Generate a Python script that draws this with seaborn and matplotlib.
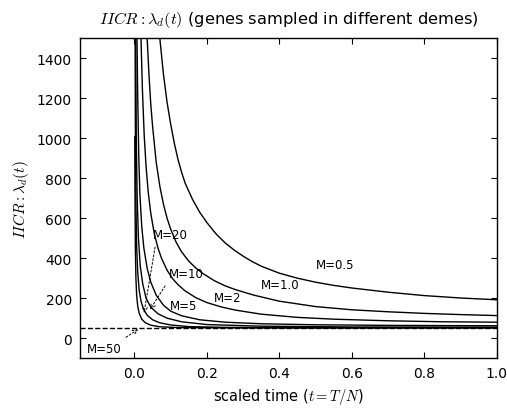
import seaborn as sns
import pandas as pd
import matplotlib
matplotlib.use("Agg")
import matplotlib.pyplot as plt

# values
t_m05 = [0.06, 0.07, 0.08, 0.09, 0.10, 0.11, 0.12, 0.13, 0.14, 0.16, 0.18, 0.20, 0.225, 0.25, 0.275, 0.30, 0.325,
         0.35, 0.40, 0.45, 0.50, 0.55, 0.60, 0.70, 0.80, 0.90, 1.00]
l_m05 = [1700, 1500, 1320, 1180, 1070, 975, 895, 830, 775, 695, 630, 578, 522, 477, 441, 410, 383,
         360, 325, 300, 280, 264, 251, 230, 213, 201, 192]

t_m1 = [0.03, 0.035, 0.04, 0.045, 0.05, 0.06, 0.07, 0.08, 0.09, 0.10, 0.115, 0.13, 0.15, 0.17, 0.19, 0.22, 0.25,
        0.28, 0.33, 0.40, 0.50, 0.60, 0.70, 0.80, 0.90, 1.00]
l_m1 = [1750, 1500, 1320, 1170, 1060, 880, 760, 670, 600, 545, 480, 432, 385, 350, 322, 288, 262,
        242, 215, 185, 158, 142, 132, 124, 118, 113]

t_m2 = [0.015, 0.018, 0.022, 0.027, 0.032, 0.038, 0.045, 0.055, 0.065, 0.075, 0.09, 0.105, 0.12, 0.14, 0.17,
        0.20, 0.24, 0.28, 0.35, 0.45, 0.55, 0.70, 0.85, 1.00]
l_m2 = [1800, 1500, 1240, 1010, 860, 730, 625, 520, 450, 398, 340, 298, 268, 236, 202,
        178, 156, 140, 120, 104, 95, 87, 82, 80]

t_m5 = [0.005, 0.007, 0.009, 0.012, 0.015, 0.02, 0.026, 0.035, 0.045, 0.06, 0.08, 0.10, 0.13, 0.18, 0.25, 0.35,
        0.50, 0.70, 1.00]
l_m5 = [2000, 1500, 1200, 900, 720, 560, 450, 350, 280, 215, 165, 135, 112, 92, 80, 72, 67, 64, 62]

t_m10 = [0.002, 0.0035, 0.005, 0.0075, 0.011, 0.016, 0.023, 0.032, 0.045, 0.065, 0.09, 0.13, 0.2, 0.35, 0.6, 1.00]
l_m10 = [2500, 1500, 1000, 700, 500, 360, 270, 200, 155, 122, 100, 82, 68, 60, 56, 55]

t_m20 = [0.0008, 0.0015, 0.0025, 0.004, 0.006, 0.009, 0.013, 0.018, 0.025, 0.035, 0.05, 0.07, 0.10, 0.15, 0.25,
         0.50, 1.00]
l_m20 = [3000, 1700, 1050, 680, 460, 330, 240, 185, 145, 115, 92, 77, 66, 58, 54, 52, 52]

t_m50 = [0.0008, 0.0016, 0.0025, 0.004, 0.006, 0.009, 0.013, 0.02, 0.03, 0.045, 0.07, 0.12, 0.3, 1.0]
l_m50 = [1010, 680, 450, 300, 215, 160, 125, 95, 77, 65, 57, 53, 51, 51]

asymptote = 50

curves = {"0.5": (t_m05, l_m05), "1.0": (t_m1, l_m1), "2": (t_m2, l_m2), "5": (t_m5, l_m5),
          "10": (t_m10, l_m10), "20": (t_m20, l_m20), "50": (t_m50, l_m50)}

frames = []
for m, (t, l) in curves.items():
    frames.append(pd.DataFrame({"t": t, "lam": l, "M": m}))
df = pd.concat(frames, ignore_index=True)

sns.set_style("white")
plt.rcParams.update({
    "font.family": ["DejaVu Sans"],
    "font.size": 10,
    "mathtext.fontset": "cm",
    "text.color": "black",
    "axes.labelcolor": "black",
    "xtick.color": "black",
    "ytick.color": "black",
    "xtick.direction": "in",
    "ytick.direction": "in",
    "xtick.top": True,
    "ytick.right": True,
    "xtick.bottom": True,
    "ytick.left": True,
    "xtick.major.size": 4,
    "ytick.major.size": 4,
    "xtick.major.pad": 6,
    "ytick.major.pad": 6,
    "axes.edgecolor": "black",
    "axes.linewidth": 1.0,
})

fig = plt.figure(figsize=(5.07, 4.10), dpi=100)
ax = fig.add_axes([0.158, 0.124, 0.822, 0.78])

sns.lineplot(data=df, x="t", y="lam", units="M", estimator=None, sort=False,
             color="black", lw=1.0, ax=ax)
ax.axhline(asymptote, ls="--", color="black", lw=1.0)

ax.set_xlim(-0.15, 1.0)
ax.set_ylim(-100, 1500)
ax.set_xticks([0.0, 0.2, 0.4, 0.6, 0.8, 1.0])
ax.set_yticks([0, 200, 400, 600, 800, 1000, 1200, 1400])

ax.text(0.50, 367, "M=0.5", fontsize=8.5, va="center")
ax.text(0.35, 268, "M=1.0", fontsize=8.5, va="center")
ax.text(0.218, 202, "M=2", fontsize=8.5, va="center")
ax.text(0.099, 162, "M=5", fontsize=8.5, va="center")

arrow = dict(arrowstyle="->", linestyle=(0, (2, 2)), color="black", lw=0.7)
ax.annotate("M=10", xy=(0.039, 132), xytext=(0.094, 322), fontsize=8.5, va="center",
            arrowprops=dict(arrow, relpos=(0.05, 0.2)))
ax.annotate("M=20", xy=(0.025, 112), xytext=(0.05, 518), fontsize=8.5, va="center",
            arrowprops=dict(arrow, relpos=(0.1, 0.0)))
ax.annotate("M=50", xy=(0.0165, 52), xytext=(-0.13, -52), fontsize=8.5, va="center",
            arrowprops=dict(arrow, relpos=(0.9, 1.0)))

ax.set_xlabel("scaled time ($t=T/N$)", fontsize=10.5)
ax.set_ylabel(r"$IICR:\lambda_d(t)$", fontsize=11)
ax.set_title(r"$IICR:\lambda_d(t)$ (genes sampled in different demes)", fontsize=11.7, pad=11)

fig.savefig("out.png", dpi=100)
